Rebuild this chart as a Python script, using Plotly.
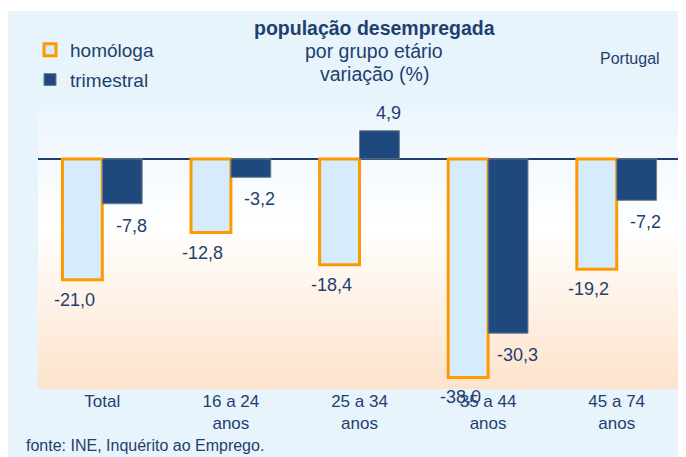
import plotly.graph_objects as go

categories = ["Total", "16 a 24<br>anos", "25 a 34<br>anos", "35 a 44<br>anos", "45 a 74<br>anos"]
homologa = [-21.0, -12.8, -18.4, -38.0, -19.2]
trimestral = [-7.8, -3.2, 4.9, -30.3, -7.2]
series_names = ["homóloga", "trimestral"]

TXT = "#1F3F6E"
OX, OY = 8, 8          # page offset of the figure (browser body margin)
W, H = 678, 449
ML, MR, MT, MB = 30, 5, 102, 68
PW, PH = W - ML - MR, H - MT - MB


def px_x(p):  # page pixel -> paper x
    return (p - OX - ML) / PW


def px_y(p):  # page pixel -> paper y
    return (OY + H - MB - p) / PH


def fmt(v):
    return f"{v:.1f}".replace(".", ",")


fig = go.Figure()
fig.add_trace(go.Bar(
    x=categories, y=homologa, name=series_names[0],
    marker=dict(color="#D4ECFC", line=dict(color="#FF9900", width=3)),
    legendgroup="a",
))
fig.add_trace(go.Bar(
    x=categories, y=trimestral, name=series_names[1],
    marker=dict(color="#1F497D", line=dict(color="#6F7F8F", width=1)),
    legendgroup="b",
))

shapes = []
# thin white strip at the top
shapes.append(dict(type="rect", xref="paper", yref="paper", layer="below",
                   x0=px_x(0), x1=px_x(700), y0=px_y(11), y1=px_y(-5),
                   fillcolor="white", line=dict(width=0)))


def lerp(c1, c2, t):
    return tuple(round(a + (b - a) * t) for a, b in zip(c1, c2))


stops = [(0.0, (236, 245, 253)), (0.42, (255, 255, 255)), (1.0, (253, 227, 202))]
N = 90
for i in range(N):
    t = (i + 0.5) / N  # from top
    for j in range(len(stops) - 1):
        if stops[j][0] <= t <= stops[j + 1][0]:
            tt = (t - stops[j][0]) / (stops[j + 1][0] - stops[j][0])
            c = lerp(stops[j][1], stops[j + 1][1], tt)
            break
    shapes.append(dict(type="rect", xref="paper", yref="paper", layer="below",
                       x0=0, x1=1, y0=max(0, 1 - (i + 1) / N - 0.002), y1=1 - i / N,
                       fillcolor="rgb(%d,%d,%d)" % c, line=dict(width=0)))

annotations = []
for cat, v in zip(categories, homologa):
    annotations.append(dict(x=cat, y=v, xref="x", yref="y", text=fmt(v), showarrow=False,
                            xshift=-28, yshift=(20 if v >= 0 else -20), yanchor="middle",
                            font=dict(size=18, color=TXT)))
for cat, v in zip(categories, trimestral):
    annotations.append(dict(x=cat, y=v, xref="x", yref="y", text=fmt(v), showarrow=False,
                            xshift=29, yshift=(18 if v >= 0 else -22), yanchor="middle",
                            font=dict(size=18, color=TXT)))

annotations += [
    dict(x=px_x(374), y=px_y(28), xref="paper", yref="paper", text="<b>população desempregada</b>",
         showarrow=False, font=dict(size=19.5, color=TXT), xanchor="center", yanchor="middle"),
    dict(x=px_x(374), y=px_y(51), xref="paper", yref="paper", text="por grupo etário",
         showarrow=False, font=dict(size=19.5, color=TXT), xanchor="center", yanchor="middle"),
    dict(x=px_x(374), y=px_y(74), xref="paper", yref="paper", text="variação (%)",
         showarrow=False, font=dict(size=19.5, color=TXT), xanchor="center", yanchor="middle"),
    dict(x=px_x(598), y=px_y(59), xref="paper", yref="paper", text="Portugal",
         showarrow=False, font=dict(size=16, color=TXT), xanchor="left", yanchor="middle"),
    dict(x=px_x(24), y=px_y(445), xref="paper", yref="paper", text="fonte: INE, Inquérito ao Emprego.",
         showarrow=False, font=dict(size=16, color=TXT), xanchor="left", yanchor="middle"),
]

fig.update_layout(
    width=W, height=H,
    margin=dict(l=ML, r=MR, t=MT, b=MB, pad=0),
    paper_bgcolor="#E8F4FC",
    plot_bgcolor="rgba(0,0,0,0)",
    font=dict(family="Liberation Sans, Arial, sans-serif", color=TXT),
    separators=",.",
    barmode="group",
    bargap=0.38,
    bargroupgap=0,
    shapes=shapes,
    annotations=annotations,
    showlegend=True,
    legend=dict(x=px_x(30), y=px_y(31), xanchor="left", yanchor="top",
                bgcolor="rgba(0,0,0,0)", font=dict(size=19, color=TXT),
                traceorder="grouped", tracegroupgap=2, itemwidth=30),
    xaxis=dict(showgrid=False, showline=False, ticks="", tickfont=dict(size=17, color=TXT)),
    yaxis=dict(range=[-40, 8.5], showgrid=False, showline=False, showticklabels=False,
               zeroline=True, zerolinecolor="#1F3F6E", zerolinewidth=1.5),
)

fig.write_html("out.html")
